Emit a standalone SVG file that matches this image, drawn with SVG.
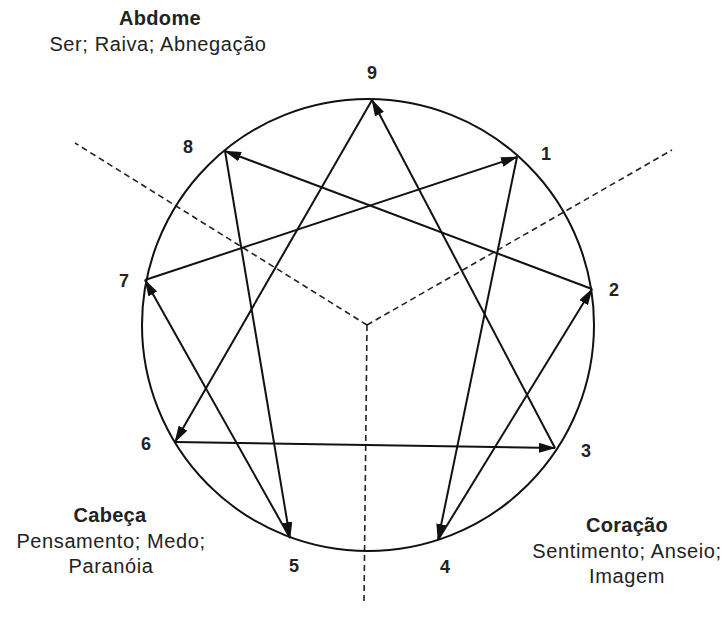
<svg xmlns="http://www.w3.org/2000/svg" width="726" height="620" viewBox="0 0 726 620">
<defs>
<marker id="ah" markerWidth="17" markerHeight="10" refX="16" refY="5" orient="auto" markerUnits="userSpaceOnUse">
<path d="M0,0 L17,5 L0,10 Z" fill="#111"/>
</marker>
<style>
.lbl{font-family:"Liberation Sans",Arial,sans-serif;fill:#222;text-anchor:middle;font-size:20px;letter-spacing:0.6px}
.b{font-weight:bold;letter-spacing:0.3px}
.num{font-family:"Liberation Sans",Arial,sans-serif;font-weight:bold;font-size:18px;fill:#222;text-anchor:middle}
.dash{stroke:#222;stroke-width:1.6;stroke-dasharray:6 4;fill:none}
.arr{stroke:#111;stroke-width:2;fill:none;marker-end:url(#ah)}
</style>
</defs>
<rect width="726" height="620" fill="#fff"/>
<g id="dashes">
<line class="dash" x1="367" y1="325" x2="75" y2="143"/>
<line class="dash" x1="367" y1="325" x2="672" y2="150"/>
<line class="dash" x1="367" y1="325" x2="364" y2="602"/>
</g>
<g id="circle">
<circle cx="368" cy="325" r="226" fill="none" stroke="#111" stroke-width="2"/>
</g>
<g id="connectors">
<line class="arr" x1="517" y1="157" x2="438" y2="540"/>
<line class="arr" x1="438" y1="540" x2="592" y2="289"/>
<line class="arr" x1="592" y1="289" x2="225" y2="151"/>
<line class="arr" x1="225" y1="151" x2="290" y2="538"/>
<line class="arr" x1="290" y1="538" x2="145" y2="280"/>
<line class="arr" x1="145" y1="280" x2="517" y2="157"/>
<line class="arr" x1="372" y1="100" x2="175" y2="442"/>
<line class="arr" x1="175" y1="442" x2="555" y2="448"/>
<line class="arr" x1="555" y1="448" x2="372" y2="100"/>
</g>
<g id="p9"><text class="num" x="372" y="79">9</text></g>
<g id="p1"><text class="num" x="546" y="160">1</text></g>
<g id="p2"><text class="num" x="614" y="296">2</text></g>
<g id="p3"><text class="num" x="586" y="457">3</text></g>
<g id="p4"><text class="num" x="445" y="573">4</text></g>
<g id="p5"><text class="num" x="294" y="572">5</text></g>
<g id="p6"><text class="num" x="146" y="450">6</text></g>
<g id="p7"><text class="num" x="124" y="287">7</text></g>
<g id="p8"><text class="num" x="188" y="153">8</text></g>
<g id="abdome">
<text class="lbl b" x="160" y="25">Abdome</text>
<text class="lbl" x="158" y="51">Ser; Raiva; Abnegação</text>
</g>
<g id="cabeca">
<text class="lbl b" x="110" y="522">Cabeça</text>
<text class="lbl" x="111" y="548">Pensamento; Medo;</text>
<text class="lbl" x="111" y="573">Paranóia</text>
</g>
<g id="coracao">
<text class="lbl b" x="627" y="532">Coração</text>
<text class="lbl" x="627" y="558">Sentimento; Anseio;</text>
<text class="lbl" x="627" y="583">Imagem</text>
</g>
</svg>
